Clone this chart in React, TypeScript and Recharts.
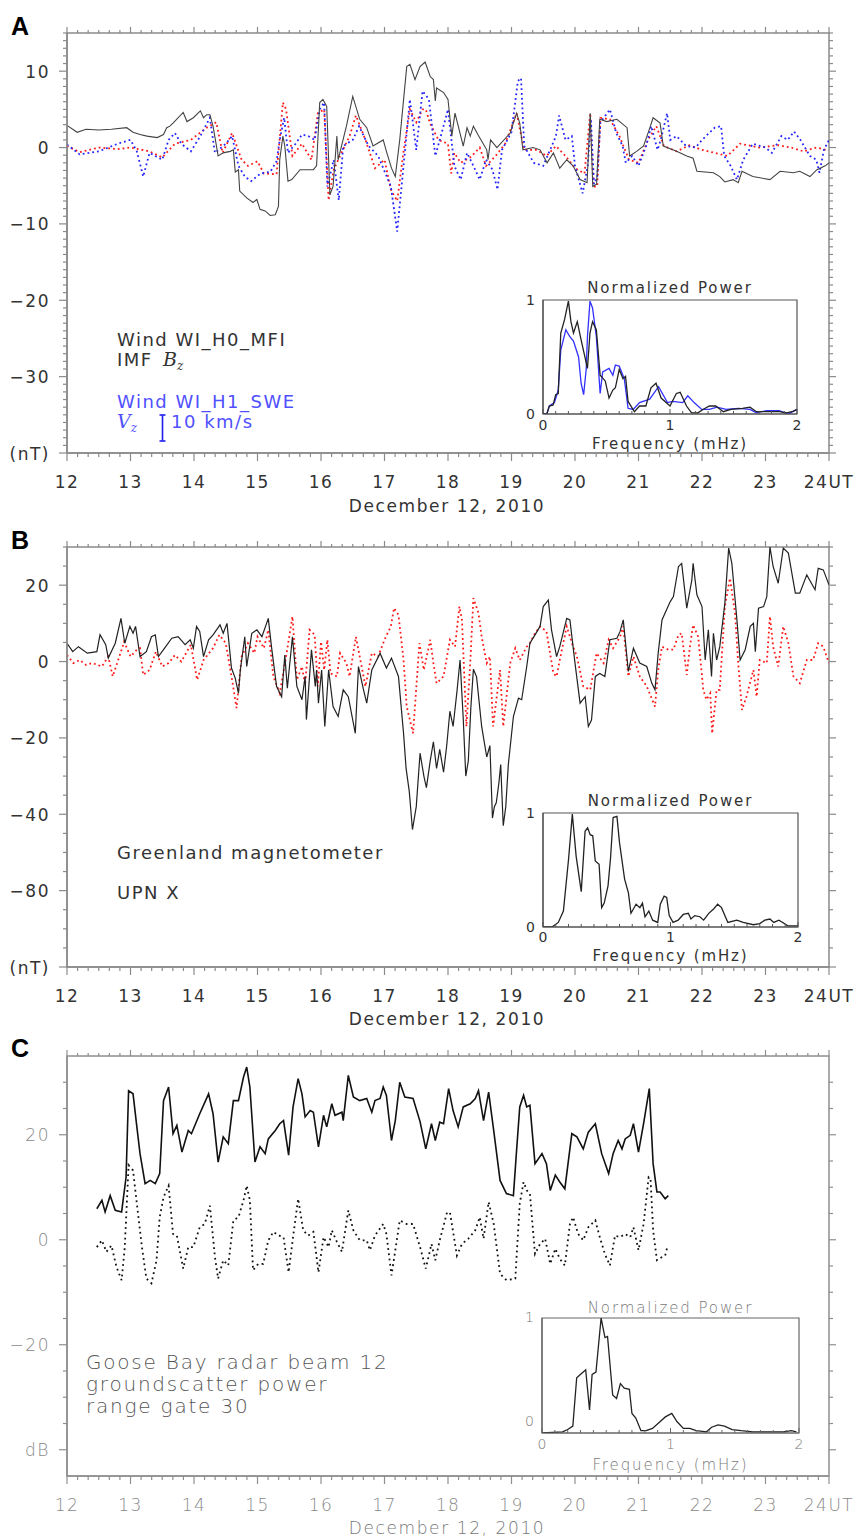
import React from 'react';
import { LineChart, Line, XAxis, YAxis, ReferenceArea } from 'recharts';

type Pt = [number, number];

// ---- panel A: Wind IMF Bz (black), red dotted, Wind Vz (blue dotted) ----
const A_BZ: Pt[] = [
  [12.0, 2.9], [12.16, 2.0], [12.3, 2.4], [12.5, 2.3], [12.7, 2.4], [12.94, 2.6], [13.04, 2.0], [13.15, 1.7],
  [13.26, 1.5], [13.42, 1.3], [13.52, 1.7], [13.57, 2.6], [13.62, 2.8], [13.67, 3.2], [13.83, 4.6], [13.89, 3.4],
  [13.99, 3.9], [14.1, 4.8], [14.15, 3.9], [14.2, 4.3], [14.25, 4.3], [14.3, 2.8], [14.38, -1.1], [14.46, -0.7],
  [14.57, -0.5], [14.62, -0.3], [14.65, -3.2], [14.7, -2.9], [14.72, -5.7], [14.83, -6.6], [14.93, -7.2],
  [14.99, -6.8], [15.04, -8.1], [15.12, -8.3], [15.2, -8.9], [15.28, -8.8], [15.33, -7.7], [15.35, -1.6],
  [15.4, 1.5], [15.43, 0.2], [15.48, -4.4], [15.54, -4.2], [15.67, -2.9], [15.88, -2.9], [15.93, -2.4],
  [15.98, 5.9], [16.03, 6.3], [16.09, 5.4], [16.14, -6.2], [16.19, -5.1], [16.25, 1.5], [16.27, -1.6],
  [16.4, 2.8], [16.5, 6.7], [16.61, 3.7], [16.72, 2.6], [16.82, 0.2], [16.98, 1.0], [17.03, -0.5], [17.11, -2.7],
  [17.17, -3.8], [17.24, 1.0], [17.35, 10.6], [17.4, 10.9], [17.48, 8.9], [17.56, 10.6], [17.64, 11.2],
  [17.72, 9.3], [17.77, 8.9], [17.8, 6.1], [17.82, 7.8], [17.93, 7.2], [18.0, 6.3], [18.06, 1.5], [18.11, 4.5],
  [18.24, 0.2], [18.3, 2.6], [18.35, 1.5], [18.4, 2.8], [18.47, 1.7], [18.61, -0.3], [18.63, -1.6], [18.67, 1.0],
  [18.77, 0], [18.98, 1.9], [19.08, 4.5], [19.13, 3.2], [19.18, -0.3], [19.34, 0], [19.45, -0.3], [19.56, -2.0],
  [19.66, -0.7], [19.76, -2.7], [19.87, -1.6], [19.97, -2.4], [20.08, -4.2], [20.19, -4.6], [20.24, 4.5],
  [20.28, -5.1], [20.34, -4.8], [20.39, 3.7], [20.5, 3.4], [20.66, 3.7], [20.82, 2.6], [20.86, -1.1],
  [20.97, -0.5], [21.08, 0.2], [21.18, 2.6], [21.23, 3.9], [21.34, 3.2], [21.39, 0.2], [21.6, -0.5],
  [21.76, -1.1], [21.86, -1.4], [21.92, -3.1], [22.18, -3.3], [22.28, -3.8], [22.36, -4.5], [22.49, -4.2],
  [22.57, -4.6], [22.63, -3.1], [22.8, -3.8], [23.07, -4.2], [23.23, -3.1], [23.44, -3.3], [23.54, -3.1],
  [23.7, -3.8], [23.81, -2.9], [23.94, -2.4], [24.0, -2.0],
];

const A_RED: Pt[] = [
  [12.0, 0.2], [12.2, -0.6], [12.5, 0], [12.8, -0.2], [13.0, 0], [13.3, -0.5], [13.5, -1.3], [13.7, 0.5],
  [13.95, 1.0], [14.2, 2.6], [14.35, 3.3], [14.45, -0.7], [14.6, 1.9], [14.75, -1.6], [14.85, -2.4],
  [15.0, -1.8], [15.1, -3.4], [15.3, -3.5], [15.4, 5.9], [15.45, 5.0], [15.55, -1.1], [15.7, 0.5],
  [15.85, -1.6], [15.95, 4.5], [16.05, 5.0], [16.12, -6.9], [16.2, -2.9], [16.3, -1.1], [16.45, 1.5],
  [16.55, 4.2], [16.7, 1.0], [16.85, -2.7], [17.0, -1.6], [17.1, -5.5], [17.2, -7.0], [17.3, -0.5],
  [17.4, 5.0], [17.5, 3.3], [17.6, 5.0], [17.65, 5.0], [17.72, 3.1], [17.85, 1.0], [18.0, 0.5], [18.05, -3.4],
  [18.1, -0.7], [18.2, -2.0], [18.35, -1.3], [18.5, 0], [18.6, -2.4], [18.75, -1.1], [18.9, 0.5], [19.08, 4.5],
  [19.2, -0.3], [19.4, -0.3], [19.55, -1.1], [19.7, 0.2], [19.85, -1.1], [20.0, -2.7], [20.15, -3.4],
  [20.24, 4.5], [20.29, -5.1], [20.35, -5.1], [20.4, 3.9], [20.55, 3.7], [20.7, 1.5], [20.85, -1.6],
  [21.0, -2.0], [21.15, 1.0], [21.28, 2.8], [21.4, 0.2], [21.6, -0.5], [21.8, 0.3], [22.0, -0.3],
  [22.2, -0.7], [22.4, -1.1], [22.6, 0.5], [22.9, 0], [23.2, 0.3], [23.4, 0], [23.6, -0.5], [23.8, 0],
  [23.95, -0.3],
];

const A_VZ: Pt[] = [
  [12.0, 0.4], [12.2, -0.9], [12.5, -0.5], [12.8, 0.5], [13.0, 1.0], [13.1, -0.5], [13.2, -3.8], [13.3, -0.7],
  [13.5, -1.6], [13.6, 1.0], [13.7, 1.9], [13.8, 0.5], [13.95, -0.5], [14.1, 1.5], [14.25, 3.9], [14.33, -0.7],
  [14.5, 0.5], [14.6, 1.5], [14.7, -2.4], [14.8, -3.8], [14.9, -4.4], [15.05, -3.4], [15.2, -3.2],
  [15.3, -1.8], [15.35, 1.0], [15.42, 3.9], [15.48, -0.7], [15.6, 0.5], [15.7, 1.7], [15.8, 1.5], [15.9, 1.0],
  [15.98, 5.0], [16.05, 5.9], [16.1, -5.1], [16.2, -1.6], [16.28, -6.9], [16.35, 0.2], [16.5, 1.0],
  [16.6, 2.8], [16.75, 0.2], [16.9, -1.1], [17.1, -5.1], [17.2, -11.0], [17.3, -2.4], [17.4, 6.3],
  [17.5, -0.3], [17.6, 7.4], [17.7, 6.3], [17.8, -1.1], [17.9, 1.9], [18.0, 5.0], [18.1, -2.4], [18.2, -4.2],
  [18.3, -0.7], [18.4, -2.4], [18.5, -4.2], [18.6, -1.6], [18.7, -2.9], [18.78, -5.5], [18.85, -0.3],
  [19.0, 2.0], [19.1, 8.7], [19.15, 9.1], [19.2, 0.2], [19.35, -2.0], [19.5, -2.4], [19.65, 0.5], [19.7, 1.5],
  [19.75, 4.2], [19.85, 1.0], [19.95, 1.5], [20.0, -2.4], [20.12, -6.0], [20.2, -2.4], [20.25, 3.7],
  [20.3, -4.8], [20.35, -3.8], [20.4, 3.3], [20.55, 5.0], [20.65, 1.9], [20.75, 0.2], [20.8, -2.0],
  [20.9, -1.1], [21.0, -2.4], [21.12, 0.2], [21.2, 2.8], [21.3, -0.3], [21.35, 1.0], [21.45, 4.5], [21.5, 1.0],
  [21.6, 1.5], [21.75, 0.2], [21.9, 0], [22.0, 1.0], [22.2, 2.6], [22.3, 2.8], [22.35, -1.1], [22.45, -2.4],
  [22.55, -4.2], [22.65, -1.6], [22.8, 0.5], [23.0, 0], [23.1, -0.7], [23.25, 1.5], [23.35, 1.0], [23.45, 2.1],
  [23.55, 1.0], [23.7, -1.1], [23.8, -1.6], [23.85, -3.3], [23.92, -0.3], [24.0, 1.0],
];

// ---- panel B: Greenland magnetometer UPN X (black), red dotted ----
const B_X: Pt[] = [
  [12.0, 4.8], [12.09, 2.6], [12.18, 3.9], [12.32, 2.2], [12.47, 2.6], [12.52, 7.0], [12.61, 4.4], [12.65, 0.9],
  [12.76, 4.8], [12.85, 11.3], [12.91, 4.8], [12.99, 9.2], [13.04, 7.4], [13.08, 9.2], [13.15, 1.3],
  [13.25, 2.6], [13.33, 6.5], [13.39, 7.0], [13.44, 1.3], [13.52, 3.1], [13.65, 6.1], [13.75, 6.5],
  [13.86, 4.4], [13.94, 5.7], [13.99, 3.5], [14.04, 9.2], [14.09, 7.9], [14.15, 1.3], [14.23, 5.7], [14.3, 7.0],
  [14.41, 9.6], [14.46, 7.4], [14.52, 10.0], [14.59, -1.7], [14.65, -4.4], [14.7, -8.3], [14.73, -2.2],
  [14.8, 6.5], [14.83, -1.3], [14.91, 7.4], [14.99, 8.3], [15.07, 6.5], [15.17, 11.3], [15.22, 3.9],
  [15.3, -6.5], [15.38, -9.2], [15.43, 1.7], [15.47, -7.0], [15.55, 6.5], [15.62, -6.5], [15.7, -10.0],
  [15.75, -3.9], [15.77, -15.2], [15.85, 3.1], [15.91, -6.5], [15.93, -2.2], [15.96, -10.9], [16.01, -2.2],
  [16.06, -17.0], [16.12, -2.2], [16.19, -11.8], [16.27, -14.4], [16.35, -7.4], [16.43, -9.2],
  [16.54, -18.8], [16.59, -1.3], [16.67, -7.4], [16.72, -10.9], [16.8, -2.2], [16.93, 2.2], [17.03, -1.7],
  [17.11, 0.9], [17.22, -3.9], [17.3, -18.8], [17.34, -28], [17.39, -34], [17.44, -44], [17.5, -38],
  [17.56, -24], [17.62, -30], [17.66, -33], [17.72, -26], [17.77, -21], [17.82, -28], [17.87, -23],
  [17.93, -29], [17.98, -22], [18.03, -13], [18.08, -17], [18.14, -8], [18.19, 0.4], [18.24, -15],
  [18.28, -30], [18.32, -26], [18.36, -12], [18.4, -2], [18.45, -4], [18.53, -17], [18.61, -25],
  [18.66, -22], [18.7, -41], [18.73, -38], [18.76, -37], [18.8, -32], [18.83, -27], [18.87, -43],
  [18.91, -38], [18.95, -27], [19.03, -14.4], [19.11, -9.6], [19.16, -10.0], [19.24, -1.3], [19.29, 4.8],
  [19.37, 7.0], [19.45, 9.2], [19.5, 14.4], [19.58, 16.1], [19.63, 8.3], [19.71, 1.3], [19.76, 3.9],
  [19.87, 11.3], [19.92, 10.9], [20.0, -0.4], [20.08, -10.9], [20.16, -9.2], [20.21, -17.0], [20.26, -15.3],
  [20.32, -3.9], [20.39, -3.1], [20.47, -3.9], [20.55, 5.7], [20.66, 6.1], [20.71, 7.9], [20.76, 10.9],
  [20.84, -2.6], [20.92, 3.5], [21.02, -0.4], [21.13, -1.3], [21.21, -5.7], [21.26, -7.4], [21.31, 2.2],
  [21.37, 10.9], [21.44, 13.5], [21.5, 15.7], [21.55, 17.0], [21.63, 24.9], [21.68, 25.7], [21.76, 14.0],
  [21.84, 21.4], [21.86, 25.7], [21.92, 17.5], [22.0, 14.4], [22.05, 0.4], [22.1, 8.3], [22.15, -3.9],
  [22.18, 7.4], [22.23, 0.4], [22.28, 3.9], [22.36, 15.3], [22.42, 29.7], [22.47, 25.7], [22.55, 10.9],
  [22.6, 0.4], [22.68, 3.1], [22.76, 9.2], [22.81, 10.0], [22.84, 2.6], [22.89, 14.0], [22.97, 14.4],
  [23.02, 17.0], [23.07, 30], [23.12, 24.9], [23.2, 20.5], [23.28, 29.7], [23.36, 28.4], [23.47, 17.9],
  [23.54, 17.9], [23.65, 22.7], [23.78, 18.8], [23.83, 24.4], [23.91, 24.0], [24.0, 20.1],
];

const B_RED: Pt[] = [
  [12.0, 1.7], [12.1, -0.4], [12.2, 0.4], [12.3, -0.9], [12.4, -0.4], [12.55, -1.3], [12.65, 1.3], [12.72, -3.9],
  [12.85, 2.6], [12.9, 5.2], [13.0, 1.3], [13.1, 3.1], [13.15, 3.5], [13.2, -3.5], [13.3, -2.2], [13.4, 2.6],
  [13.5, -1.3], [13.6, -0.4], [13.7, 1.7], [13.8, 0], [13.95, 4.4], [14.05, -4.8], [14.15, 0.4], [14.3, 3.5],
  [14.4, 7.0], [14.5, 4.8], [14.6, -4.8], [14.67, -12.2], [14.75, 1.3], [14.85, 4.8], [14.95, 2.2], [15.0, 6.5],
  [15.1, 3.5], [15.17, 8.3], [15.25, -3.9], [15.35, -8.3], [15.45, 1.3], [15.55, 11.8], [15.62, -4.8],
  [15.7, -1.3], [15.75, -6.1], [15.82, 8.3], [15.9, 7.0], [15.95, -6.5], [16.0, 5.2], [16.05, -2.2],
  [16.1, 5.7], [16.15, -3.1], [16.25, -3.9], [16.3, 2.2], [16.4, -0.4], [16.45, -3.9], [16.55, 6.5],
  [16.62, 0.4], [16.7, -6.5], [16.8, 2.2], [16.9, 1.3], [17.0, 5.7], [17.1, 9.2], [17.15, 14.0], [17.22, 12.2],
  [17.3, 0.4], [17.35, -11.8], [17.45, -18.8], [17.55, 4.8], [17.62, -2.2], [17.72, 5.7], [17.77, -0.4],
  [17.82, -5.7], [17.93, -3.9], [18.03, 5.7], [18.11, 3.9], [18.18, 14.4], [18.22, 10.9], [18.29, -17.0],
  [18.35, -0.4], [18.4, 16.6], [18.48, 12.7], [18.53, 6.5], [18.61, -0.4], [18.66, 1.3], [18.71, -17.0],
  [18.82, -2.2], [18.87, -17.0], [18.98, -0.4], [19.06, 3.5], [19.13, 0.4], [19.24, 3.9], [19.29, 4.8],
  [19.37, 7.4], [19.45, 9.2], [19.55, 7.9], [19.66, -3.1], [19.71, -3.9], [19.76, 0.4], [19.87, 9.2],
  [19.97, 3.9], [20.03, 1.3], [20.13, -6.5], [20.24, -7.4], [20.34, 2.2], [20.45, -0.4], [20.53, 5.7],
  [20.6, 3.5], [20.71, 6.5], [20.76, 9.2], [20.84, -3.9], [20.92, 1.3], [21.02, -3.9], [21.13, -6.5],
  [21.26, -11.8], [21.31, -2.2], [21.37, 3.9], [21.47, 3.1], [21.55, 3.1], [21.63, 7.0], [21.68, 7.4],
  [21.76, -3.5], [21.81, 3.9], [21.86, 9.6], [21.94, 6.5], [22.02, -7.4], [22.07, -10.0], [22.13, -8.3],
  [22.16, -18.8], [22.23, -7.4], [22.28, -7.4], [22.36, 14.4], [22.44, 21.8], [22.52, 12.7], [22.57, -0.4],
  [22.63, -12.7], [22.7, -9.2], [22.81, -2.2], [22.86, -9.2], [22.91, 0.4], [23.02, -0.4], [23.07, 11.8],
  [23.12, 3.9], [23.2, -1.3], [23.28, 9.2], [23.36, 4.8], [23.44, -3.9], [23.54, -5.7], [23.65, 0.4],
  [23.75, 0.4], [23.83, 4.8], [23.91, 3.9], [24.0, -0.4],
];

// ---- panel C: Goose Bay radar groundscatter power (solid), dotted ----
const C_POWER: Pt[] = [
  [12.47, 5.9], [12.55, 7.5], [12.6, 5.3], [12.68, 8.4], [12.76, 5.6], [12.86, 5.3], [12.93, 11.9], [12.97, 28.4],
  [13.04, 27.8], [13.1, 21.5], [13.15, 16.4], [13.23, 10.7], [13.31, 11.3], [13.39, 10.7], [13.46, 12.6],
  [13.52, 26.5], [13.6, 29.1], [13.67, 20.2], [13.73, 21.8], [13.81, 16.7], [13.91, 20.8], [13.96, 20.2],
  [14.09, 24.0], [14.23, 27.8], [14.3, 24.0], [14.38, 14.8], [14.46, 19.6], [14.54, 18.3], [14.62, 26.5],
  [14.7, 26.5], [14.78, 31.0], [14.83, 32.9], [14.88, 29.1], [14.96, 14.8], [15.04, 17.7], [15.12, 16.4],
  [15.17, 19.2], [15.28, 20.8], [15.35, 22.1], [15.41, 22.7], [15.49, 16.1], [15.56, 25.3], [15.64, 30.7],
  [15.7, 27.8], [15.75, 23.4], [15.83, 24.6], [15.88, 24.3], [15.96, 17.7], [16.04, 23.7], [16.09, 21.5],
  [16.17, 25.9], [16.22, 23.7], [16.33, 24.3], [16.35, 22.7], [16.43, 31.3], [16.51, 27.2], [16.61, 26.5],
  [16.72, 26.9], [16.8, 24.3], [16.85, 26.5], [16.93, 26.9], [16.98, 29.1], [17.03, 27.5], [17.11, 18.9],
  [17.17, 22.7], [17.24, 30.0], [17.32, 27.2], [17.45, 26.9], [17.56, 22.5], [17.65, 17.3], [17.74, 22.1],
  [17.8, 18.9], [17.87, 22.4], [17.93, 22.1], [18.01, 28.8], [18.08, 24.6], [18.16, 21.5], [18.24, 25.3],
  [18.35, 25.9], [18.43, 26.9], [18.48, 28.4], [18.56, 22.7], [18.64, 28.1], [18.72, 20.8], [18.82, 11.3],
  [18.92, 8.8], [19.03, 8.4], [19.08, 17.0], [19.13, 25.3], [19.19, 27.5], [19.24, 25.3], [19.29, 25.6],
  [19.37, 14.5], [19.48, 16.4], [19.55, 14.5], [19.61, 9.4], [19.69, 12.3], [19.76, 11.0], [19.84, 9.7],
  [19.95, 20.2], [20.03, 19.6], [20.13, 17.3], [20.21, 20.5], [20.32, 22.1], [20.42, 16.4], [20.53, 12.6],
  [20.6, 16.4], [20.68, 18.9], [20.74, 17.3], [20.79, 19.2], [20.87, 19.9], [20.92, 22.1], [21.0, 16.7],
  [21.08, 22.1], [21.17, 28.8], [21.23, 14.5], [21.29, 9.1], [21.34, 9.1], [21.42, 7.8], [21.47, 8.4],
];

const C_DOT: Pt[] = [
  [12.47, -1.4], [12.55, -0.1], [12.62, -2.3], [12.7, -1.1], [12.78, -5.2], [12.86, -7.7], [12.91, -1.4],
  [12.97, 14.2], [13.04, 13.2], [13.1, 6.9], [13.18, -1.4], [13.25, -7.4], [13.33, -8.3], [13.41, -3.9],
  [13.46, 4.3], [13.52, 8.1], [13.6, 10.3], [13.67, 1.1], [13.73, 0.8], [13.83, -5.5], [13.91, -1.4],
  [13.99, -1.4], [14.09, 2.4], [14.17, 3.0], [14.25, 6.5], [14.33, -3.3], [14.38, -7.4], [14.46, -3.9],
  [14.54, -4.9], [14.62, 3.7], [14.7, 4.3], [14.78, 7.5], [14.83, 10.3], [14.88, 7.5], [14.93, -5.8],
  [15.01, -4.6], [15.09, -4.6], [15.17, -0.1], [15.25, 1.5], [15.33, 0.8], [15.41, 0.5], [15.49, -6.2],
  [15.56, 0.5], [15.64, 7.8], [15.72, 1.8], [15.8, 0.8], [15.88, 1.5], [15.96, -6.2], [16.04, 0.5],
  [16.12, -1.4], [16.17, 1.8], [16.25, -0.4], [16.33, -2.3], [16.43, 5.6], [16.51, 1.8], [16.61, -0.1],
  [16.72, -0.1], [16.77, -2.0], [16.85, 0.8], [16.98, 3.0], [17.03, 1.1], [17.11, -6.8], [17.17, -2.0],
  [17.24, 3.7], [17.35, 3.0], [17.45, 3.0], [17.56, -1.4], [17.65, -5.5], [17.74, -0.8], [17.8, -3.9],
  [17.87, -0.1], [17.98, 5.0], [18.03, 5.3], [18.14, -3.0], [18.22, -0.8], [18.32, 0.2], [18.43, 1.8],
  [18.5, 4.3], [18.56, 0.2], [18.64, 7.2], [18.72, 3.0], [18.82, -6.5], [18.92, -7.7], [19.06, -7.4],
  [19.13, 6.9], [19.19, 11.0], [19.24, 9.4], [19.29, 8.8], [19.37, -2.7], [19.45, -0.8], [19.53, 0.2],
  [19.61, -4.6], [19.69, -1.7], [19.76, -3.6], [19.84, -4.9], [19.92, 3.0], [19.97, 4.3], [20.05, 1.1],
  [20.13, -0.1], [20.21, 2.4], [20.32, 3.7], [20.39, 0.5], [20.47, -2.7], [20.55, -4.9], [20.63, 0.8],
  [20.71, 0.5], [20.79, 1.1], [20.87, 0.5], [20.92, 2.4], [21.0, -2.0], [21.08, 3.0], [21.16, 11.9],
  [21.19, 11.6], [21.23, 1.8], [21.29, -3.9], [21.37, -3.3], [21.42, -3.0], [21.46, -1.1],
];

// ---- insets: normalized power vs frequency (mHz) ----
const A_SPEC_BZ: Pt[] = [
  [0, 0], [0.03, 0], [0.05, 0.07], [0.08, 0.08], [0.1, 0.17], [0.12, 0.18], [0.14, 0.71], [0.17, 0.83],
  [0.2, 0.99], [0.22, 0.81], [0.24, 0.71], [0.27, 0.81], [0.3, 0.65], [0.34, 0.45], [0.35, 0.4], [0.37, 0.71],
  [0.39, 0.81], [0.42, 0.74], [0.45, 0.34], [0.49, 0.29], [0.52, 0.14], [0.55, 0.21], [0.57, 0.23], [0.6, 0.39],
  [0.63, 0.31], [0.65, 0.33], [0.67, 0.11], [0.72, 0.02], [0.76, 0.07], [0.81, 0.07], [0.85, 0.23], [0.89, 0.27],
  [0.93, 0.14], [1.0, 0.07], [1.05, 0.18], [1.08, 0.19], [1.13, 0.07], [1.17, 0.01], [1.22, 0.01], [1.26, 0.04],
  [1.31, 0.07], [1.36, 0.07], [1.42, 0.02], [1.48, 0.04], [1.57, 0.05], [1.63, 0.06], [1.68, 0.02], [1.78, 0.02],
  [1.86, 0.02], [1.92, 0.01], [1.96, 0.02], [2.0, 0.04],
];
const A_SPEC_VZ: Pt[] = [
  [0, 0], [0.03, 0], [0.05, 0.07], [0.09, 0.1], [0.12, 0.21], [0.14, 0.56], [0.18, 0.74], [0.21, 0.68],
  [0.24, 0.64], [0.28, 0.5], [0.3, 0.27], [0.32, 0.17], [0.34, 0.39], [0.35, 0.68], [0.37, 0.99], [0.39, 0.93],
  [0.42, 0.68], [0.45, 0.18], [0.47, 0.37], [0.52, 0.4], [0.55, 0.34], [0.57, 0.43], [0.6, 0.42], [0.64, 0.31],
  [0.67, 0.05], [0.71, 0.04], [0.76, 0.1], [0.84, 0.13], [0.91, 0.24], [0.98, 0.1], [1.02, 0.11], [1.1, 0.1],
  [1.14, 0.16], [1.19, 0.1], [1.25, 0.04], [1.31, 0.04], [1.37, 0.06], [1.44, 0.04], [1.54, 0.05], [1.63, 0.04],
  [1.68, 0.01], [1.76, 0.03], [1.86, 0.03], [1.93, 0], [2.0, 0.04],
];
const B_SPEC: Pt[] = [
  [0, 0], [0.07, 0], [0.12, 0.04], [0.16, 0.14], [0.2, 0.59], [0.23, 0.99], [0.26, 0.62], [0.3, 0.31],
  [0.33, 0.84], [0.35, 0.87], [0.37, 0.81], [0.39, 0.8], [0.41, 0.58], [0.44, 0.55], [0.46, 0.17], [0.48, 0.21],
  [0.51, 0.36], [0.53, 0.61], [0.55, 0.96], [0.58, 0.97], [0.6, 0.74], [0.64, 0.42], [0.67, 0.3], [0.69, 0.12],
  [0.73, 0.2], [0.76, 0.17], [0.78, 0.21], [0.8, 0.09], [0.83, 0.14], [0.86, 0.06], [0.9, 0.04], [0.92, 0.2],
  [0.95, 0.27], [0.97, 0.26], [0.99, 0.1], [1.02, 0.04], [1.06, 0.06], [1.1, 0.11], [1.14, 0.12], [1.16, 0.07],
  [1.19, 0.1], [1.23, 0.09], [1.26, 0.06], [1.3, 0.12], [1.34, 0.16], [1.37, 0.2], [1.4, 0.17], [1.45, 0.04],
  [1.52, 0.06], [1.57, 0.04], [1.65, 0.02], [1.7, 0.03], [1.74, 0.06], [1.78, 0.07], [1.81, 0.04], [1.85, 0.06],
  [1.88, 0.04], [1.92, 0.01], [2.0, 0.01],
];
const C_SPEC: Pt[] = [
  [0, 0], [0.16, 0.01], [0.2, 0.03], [0.24, 0.06], [0.27, 0.48], [0.31, 0.52], [0.34, 0.55], [0.37, 0.2],
  [0.39, 0.51], [0.42, 0.53], [0.46, 1.0], [0.49, 0.83], [0.51, 0.84], [0.55, 0.33], [0.58, 0.3], [0.61, 0.43],
  [0.64, 0.39], [0.68, 0.38], [0.7, 0.17], [0.73, 0.13], [0.77, 0.02], [0.81, 0.02], [0.86, 0.04], [0.92, 0.1],
  [0.96, 0.14], [1.01, 0.17], [1.05, 0.1], [1.1, 0.04], [1.15, 0.04], [1.2, 0.02], [1.28, 0.01], [1.32, 0.05],
  [1.37, 0.07], [1.42, 0.06], [1.48, 0.03], [1.55, 0.02], [1.64, 0.01], [1.77, 0.01], [1.88, 0.01], [1.94, 0.02],
  [1.98, 0.01],
];

// ---- axes ----
const HOUR_LABELS: Record<string, string> = {
  '12': '12', '13': '13', '14': '14', '15': '15', '16': '16', '17': '17', '18': '18',
  '19': '19', '20': '20', '21': '21', '22': '22', '23': '23', '24': '24UT',
};
const HOUR_TICKS = Array.from({ length: 73 }, (_, i) => 12 + i / 6);

const A_Y_TICKS = Array.from({ length: 56 }, (_, i) => -40 + i);
const A_Y_LABELS: Record<string, string> = { '10': '10', '0': '0', '-10': '−10', '-20': '−20', '-30': '−30', '-40': '(nT)' };
const B_Y_TICKS = Array.from({ length: 23 }, (_, i) => -80 + i * 5);
const B_Y_LABELS: Record<string, string> = { '20': '20', '0': '0', '-20': '−20', '-40': '−40', '-60': '−80', '-80': '(nT)' };
const C_Y_TICKS = Array.from({ length: 15 }, (_, i) => -40 + i * 5);
const C_Y_LABELS: Record<string, string> = { '20': '20', '0': '0', '-20': '−20', '-40': 'dB' };

const SPEC_TICKS = Array.from({ length: 21 }, (_, i) => i / 10);
const SPEC_LABELS: Record<string, string> = { '0': '0', '1': '1', '2': '2' };

const rows = (pts: Pt[]) => pts.map(([t, v]) => ({ t, v }));

const CH_W = 855;
const CH_H = 520;
// axes get 1px of room (recharts skips axes of zero size), the rest is margin
const M = { top: 33, right: 26, bottom: 66, left: 66 };
const PLOT_W = CH_W - M.left - 1 - M.right;
const PLOT_H = CH_H - M.top - M.bottom - 1;

const FONT = "'DejaVu Sans', Verdana, sans-serif";

function hourTick(stroke: string, fill: string, weight: number) {
  return (p: any) => {
    const v = p.payload.value;
    const major = Math.abs(v - Math.round(v)) < 1e-6;
    const top = p.y - PLOT_H;
    return (
      <g>
        <line x1={p.x} y1={p.y} x2={p.x} y2={p.y + (major ? 8 : 4)} stroke={stroke} strokeWidth={1.2} />
        <line x1={p.x} y1={top} x2={p.x} y2={top - (major ? 6 : 3)} stroke={stroke} strokeWidth={1.2} />
        {major && (
          <text x={p.x} y={p.y + 35} textAnchor="middle" fill={fill}
            style={{ fontFamily: FONT, fontSize: 17, letterSpacing: 1.5, fontWeight: weight }}>
            {HOUR_LABELS[String(Math.round(v))]}
          </text>
        )}
      </g>
    );
  };
}

function valueTick(labels: Record<string, string>, stroke: string, fill: string, weight: number) {
  return (p: any) => {
    const v = p.payload.value;
    const label = labels[String(v)];
    const major = label !== undefined;
    const right = p.x + PLOT_W;
    return (
      <g>
        <line x1={p.x} y1={p.y} x2={p.x - (major ? 8 : 4)} y2={p.y} stroke={stroke} strokeWidth={1.2} />
        <line x1={right} y1={p.y} x2={right + (major ? 7 : 4)} y2={p.y} stroke={stroke} strokeWidth={1.2} />
        {major && (
          <text x={p.x - 17} y={p.y + 6.5} textAnchor="end" fill={fill}
            style={{ fontFamily: FONT, fontSize: 17, letterSpacing: 1.5, fontWeight: weight }}>
            {label}
          </text>
        )}
      </g>
    );
  };
}

type Series = { data: Pt[]; color: string; width: number; dash?: string };

function Panel(props: {
  top: number; domain: [number, number]; yTicks: number[]; yLabels: Record<string, string>;
  series: Series[]; frame: string; text: string; weight: number;
}) {
  const { top, domain, yTicks, yLabels, series, frame, text, weight } = props;
  return (
    <div style={{ position: 'absolute', left: 0, top }}>
      <LineChart width={CH_W} height={CH_H} margin={M}>
        <XAxis xAxisId="t" type="number" dataKey="t" domain={[12, 24]} allowDataOverflow ticks={HOUR_TICKS}
          interval={0} height={1} tickSize={0} tickMargin={0} tickLine={false}
          axisLine={{ stroke: frame, strokeWidth: 1.5 }} tick={hourTick(frame, text, weight)} />
        <YAxis yAxisId="v" type="number" domain={domain} allowDataOverflow ticks={yTicks}
          interval={0} width={1} tickSize={0} tickMargin={0} tickLine={false}
          axisLine={{ stroke: frame, strokeWidth: 1.5 }} tick={valueTick(yLabels, frame, text, weight)} />
        <ReferenceArea xAxisId="t" yAxisId="v" x1={12} x2={24} y1={domain[0]} y2={domain[1]}
          fill="none" fillOpacity={0} stroke={frame} strokeWidth={1.5} ifOverflow="visible" />
        {series.map((s, i) => (
          <Line key={i} xAxisId="t" yAxisId="v" data={rows(s.data)} dataKey="v" type="linear" dot={false}
            stroke={s.color} strokeWidth={s.width} strokeDasharray={s.dash} strokeLinecap="butt"
            isAnimationActive={false} />
        ))}
      </LineChart>
    </div>
  );
}

type InsetBox = {
  L: number; T: number; W: number; H: number;
  xLab: number; y1Lab: number; y0Lab: number; title: number; freq: number;
  frame: string; text: string; weight: number;
};

function Inset({ box, series }: { box: InsetBox; series: Series[] }) {
  const xTick = (p: any) => {
    const v = p.payload.value;
    const lab = SPEC_LABELS[String(v)];
    return (
      <g>
        <line x1={p.x} y1={p.y} x2={p.x} y2={p.y - (lab ? 5 : 3)} stroke={box.frame} strokeWidth={1} />
        {lab && (
          <text x={p.x} y={p.y + box.xLab} textAnchor="middle" fill={box.text}
            style={{ fontFamily: FONT, fontSize: 14, fontWeight: box.weight }}>{lab}</text>
        )}
      </g>
    );
  };
  const yTick = (p: any) => {
    const v = p.payload.value;
    const dy = v === 1 ? box.y1Lab : box.y0Lab;
    return (
      <text x={p.x - 8} y={p.y + dy} textAnchor="end" fill={box.text}
        style={{ fontFamily: FONT, fontSize: 14, fontWeight: box.weight }}>{String(v)}</text>
    );
  };
  return (
    <div style={{ position: 'absolute', left: box.L - 40, top: box.T - 30 }}>
      <LineChart width={box.W + 80} height={box.H + 70} margin={{ top: 30, right: 40, bottom: 39, left: 39 }}>
        <XAxis xAxisId="f" type="number" dataKey="t" domain={[0, 2]} allowDataOverflow ticks={SPEC_TICKS}
          interval={0} height={1} tickSize={0} tickMargin={0} tickLine={false}
          axisLine={{ stroke: box.frame, strokeWidth: 1.2 }} tick={xTick} />
        <YAxis yAxisId="p" type="number" domain={[0, 1]} allowDataOverflow ticks={[0, 1]}
          interval={0} width={1} tickSize={0} tickMargin={0} tickLine={false}
          axisLine={{ stroke: box.frame, strokeWidth: 1.2 }} tick={yTick} />
        <ReferenceArea xAxisId="f" yAxisId="p" x1={0} x2={2} y1={0} y2={1}
          fill="none" fillOpacity={0} stroke={box.frame} strokeWidth={1.2} ifOverflow="visible" />
        {series.map((s, i) => (
          <Line key={i} xAxisId="f" yAxisId="p" data={rows(s.data)} dataKey="v" type="linear" dot={false}
            stroke={s.color} strokeWidth={s.width} isAnimationActive={false} />
        ))}
      </LineChart>
    </div>
  );
}

const INSET_A: InsetBox = { L: 543, T: 300, W: 254, H: 114, xLab: 16, y1Lab: 5, y0Lab: 5, title: -7, freq: 35, frame: '#555', text: '#333', weight: 400 };
const INSET_B: InsetBox = { L: 543, T: 813, W: 255, H: 114, xLab: 15, y1Lab: 5, y0Lab: 4.5, title: -7, freq: 34, frame: '#555', text: '#333', weight: 400 };
const INSET_C: InsetBox = { L: 542, T: 1318, W: 257, H: 115, xLab: 16, y1Lab: 3.5, y0Lab: -7, title: -5, freq: 37, frame: '#666', text: '#777', weight: 300 };

function InsetTitles({ box }: { box: InsetBox }) {
  const cx = box.L + box.W / 2;
  const st = { fontFamily: FONT, fontSize: 15, letterSpacing: 1.9, fontWeight: box.weight };
  return (
    <g fill={box.text}>
      <text x={cx} y={box.T + box.title} textAnchor="middle" style={st}>Normalized Power</text>
      <text x={cx} y={box.T + box.H + box.freq} textAnchor="middle" style={st}>Frequency (mHz)</text>
    </g>
  );
}

export default function App() {
  const lab = { fontFamily: FONT, fontSize: 18, letterSpacing: 1.5 };
  const date = { fontFamily: FONT, fontSize: 17, letterSpacing: 1.6 };
  const letter = { fontFamily: "'Liberation Sans', Arial, sans-serif", fontSize: 25, fontWeight: 700 };
  return (
    <div style={{ position: 'absolute', left: 0, top: 0, width: 855, height: 1537, background: '#fff', overflow: 'hidden' }}>
      <Panel top={0} domain={[-40, 15]} yTicks={A_Y_TICKS} yLabels={A_Y_LABELS} frame="#8a8a8a" text="#333" weight={400}
        series={[
          { data: A_RED, color: '#ff1a1a', width: 1.8, dash: '1.8 3' },
          { data: A_VZ, color: '#2424ff', width: 1.8, dash: '1.8 3' },
          { data: A_BZ, color: '#444', width: 1.1 },
        ]} />
      <Panel top={514} domain={[-80, 30]} yTicks={B_Y_TICKS} yLabels={B_Y_LABELS} frame="#8a8a8a" text="#333" weight={400}
        series={[
          { data: B_RED, color: '#ff1a1a', width: 1.8, dash: '1.8 3' },
          { data: B_X, color: '#222', width: 1.2 },
        ]} />
      <Panel top={1023} domain={[-45, 35]} yTicks={C_Y_TICKS} yLabels={C_Y_LABELS} frame="#8f8f8f" text="#888" weight={300}
        series={[
          { data: C_DOT, color: '#111', width: 1.8, dash: '1.8 3.5' },
          { data: C_POWER, color: '#111', width: 1.6 },
        ]} />
      <Inset box={INSET_A} series={[
        { data: A_SPEC_VZ, color: '#3030ff', width: 1.3 },
        { data: A_SPEC_BZ, color: '#222', width: 1.3 },
      ]} />
      <Inset box={INSET_B} series={[{ data: B_SPEC, color: '#222', width: 1.3 }]} />
      <Inset box={INSET_C} series={[{ data: C_SPEC, color: '#222', width: 1.3 }]} />
      <svg width={855} height={1537} style={{ position: 'absolute', left: 0, top: 0, pointerEvents: 'none' }}>
        <text x={11} y={35} style={letter}>A</text>
        <text x={11} y={549} style={letter}>B</text>
        <text x={11} y={1057} style={letter}>C</text>

        <g fill="#333" style={lab}>
          <text x={117} y={346}>Wind WI_H0_MFI</text>
          <text x={117} y={366}>IMF
            <tspan x={163} style={{ fontFamily: "'DejaVu Serif', serif", fontStyle: 'italic', fontSize: 19, letterSpacing: 0 }}>B</tspan>
            <tspan dy={4} style={{ fontFamily: "'DejaVu Serif', serif", fontStyle: 'italic', fontSize: 12, letterSpacing: 0 }}>z</tspan>
          </text>
        </g>
        <g fill="#5050ff" style={lab}>
          <text x={117} y={408}>Wind WI_H1_SWE</text>
          <text x={117} y={428}>
            <tspan style={{ fontFamily: "'DejaVu Serif', serif", fontStyle: 'italic', fontSize: 19, letterSpacing: 0 }}>V</tspan>
            <tspan dy={4} style={{ fontFamily: "'DejaVu Serif', serif", fontStyle: 'italic', fontSize: 12, letterSpacing: 0 }}>z</tspan>
          </text>
          <text x={171} y={428}>10 km/s</text>
        </g>
        <g stroke="#2020ee" strokeWidth={1.6}>
          <line x1={162.5} y1={415} x2={162.5} y2={441} />
          <line x1={159.5} y1={415} x2={165.5} y2={415} />
          <line x1={159.5} y1={441} x2={165.5} y2={441} />
        </g>

        <g fill="#333" style={lab}>
          <text x={117} y={859}>Greenland magnetometer</text>
          <text x={117} y={899}>UPN X</text>
        </g>
        <g fill="#555" style={{ fontFamily: FONT, fontSize: 20, letterSpacing: 1.8, fontWeight: 300 }}>
          <text x={86} y={1369}>Goose Bay radar beam 12</text>
          <text x={86} y={1391}>groundscatter power</text>
          <text x={86} y={1413}>range gate 30</text>
        </g>

        <g textAnchor="middle" style={date}>
          <text x={447} y={512} fill="#333">December 12, 2010</text>
          <text x={447} y={1025} fill="#333">December 12, 2010</text>
          <text x={447} y={1534} fill="#777" style={{ fontWeight: 300 }}>December 12, 2010</text>
        </g>

        <InsetTitles box={INSET_A} />
        <InsetTitles box={INSET_B} />
        <InsetTitles box={INSET_C} />
      </svg>
    </div>
  );
}
